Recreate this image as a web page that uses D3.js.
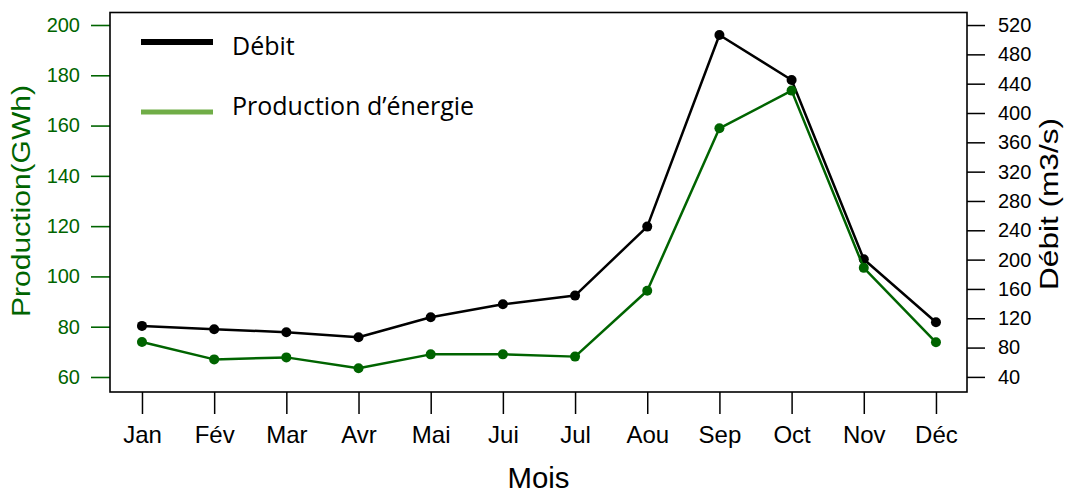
<!DOCTYPE html>
<html>
<head>
<meta charset="utf-8">
<script src="https://cdn.jsdelivr.net/npm/d3@7"></script>
<style>
  body { margin: 0; background: #fff; }
  svg { display: block; }
</style>
</head>
<body>
<div id="chart"></div>
<script>
////////////////////////////////  data  ////////////////////////////////
var months = ["Jan", "Fév", "Mar", "Avr", "Mai", "Jui", "Jul", "Aou", "Sep", "Oct", "Nov", "Déc"];
var production = [73.9, 67.0, 67.8, 63.5, 69.0, 69.0, 68.1, 94.3, 158.9, 173.9, 103.4, 73.8];   // GWh
var debit = [109.6, 105.1, 101.0, 94.1, 121.4, 139.1, 150.9, 245.0, 506.4, 445.0, 200.5, 114.6]; // m3/s
var prodTicks = [60, 80, 100, 120, 140, 160, 180, 200];
var debitTicks = [40, 80, 120, 160, 200, 240, 280, 320, 360, 400, 440, 480, 520];
var legendItems = ["Débit", "Production d’énergie"];

////////////////////////////////  setup  ////////////////////////////////
var W = 1065, H = 495;
var margin = {top: 12.5, right: 98, bottom: 103, left: 110};
var innerW = W - margin.left - margin.right;
var innerH = H - margin.top - margin.bottom;

var green = "#006400";
var legendGreen = "#70ad47";
var axisFont = "'Liberation Sans', Arial, sans-serif";

var svg = d3.select("#chart")
  .append("svg")
  .attr("width", W)
  .attr("height", H);

var g = svg.append("g")
  .attr("transform", "translate(" + margin.left + "," + margin.top + ")");

// x: month index, with a bit of room on each side like base R plots
var x = d3.scaleLinear()
  .domain([0.557, 12.43])
  .range([0, innerW]);

var yProd = d3.scaleLinear()
  .domain([54.03, 204.97])
  .range([innerH, 0]);

var yDeb = d3.scaleLinear()
  .domain([19.4, 537.1])
  .range([innerH, 0]);

////////////////////////////////  axes  ////////////////////////////////
var xAxis = g.append("g")
  .attr("transform", "translate(0," + innerH + ")")
  .call(d3.axisBottom(x)
    .tickValues(d3.range(1, 13))
    .tickFormat(function(d) { return months[d - 1]; })
    .tickSize(22)
    .tickSizeOuter(0)
    .tickPadding(12));
xAxis.select(".domain").remove();
xAxis.selectAll("line").attr("stroke", "#000").attr("stroke-width", 1.5);
xAxis.selectAll("text")
  .attr("fill", "#000")
  .style("font-family", axisFont)
  .style("font-size", "24px");

var leftAxis = g.append("g")
  .call(d3.axisLeft(yProd)
    .tickValues(prodTicks)
    .tickSize(19)
    .tickSizeOuter(0)
    .tickPadding(11));
leftAxis.select(".domain").remove();
leftAxis.selectAll("line").attr("stroke", green).attr("stroke-width", 1.6);
leftAxis.selectAll("text")
  .attr("fill", green)
  .style("font-family", axisFont)
  .style("font-size", "20px");

var rightAxis = g.append("g")
  .attr("transform", "translate(" + innerW + ",0)")
  .call(d3.axisRight(yDeb)
    .tickValues(debitTicks)
    .tickSize(18)
    .tickSizeOuter(0)
    .tickPadding(13));
rightAxis.select(".domain").remove();
rightAxis.selectAll("line").attr("stroke", "#000").attr("stroke-width", 1.5);
rightAxis.selectAll("text")
  .attr("fill", "#000")
  .style("font-family", axisFont)
  .style("font-size", "20px");

// frame
g.append("rect")
  .attr("width", innerW)
  .attr("height", innerH)
  .attr("fill", "none")
  .attr("stroke", "#000")
  .attr("stroke-width", 1.6);

//////////////////////////////  axis titles  //////////////////////////////
svg.append("text")
  .attr("x", margin.left + innerW / 2)
  .attr("y", 488)
  .attr("text-anchor", "middle")
  .attr("textLength", 62)
  .attr("lengthAdjust", "spacingAndGlyphs")
  .style("font-family", axisFont)
  .style("font-size", "29px")
  .text("Mois");

svg.append("text")
  .attr("transform", "translate(30,201) rotate(-90)")
  .attr("text-anchor", "middle")
  .attr("textLength", 232)
  .attr("lengthAdjust", "spacingAndGlyphs")
  .attr("fill", green)
  .style("font-family", axisFont)
  .style("font-size", "26px")
  .text("Production(GWh)");

svg.append("text")
  .attr("transform", "translate(1058,204) rotate(-90)")
  .attr("text-anchor", "middle")
  .attr("textLength", 172)
  .attr("lengthAdjust", "spacingAndGlyphs")
  .attr("fill", "#000")
  .style("font-family", axisFont)
  .style("font-size", "25px")
  .text("Débit (m3/s)");

//////////////////////////////  series  //////////////////////////////
function drawSeries(values, yScale, color) {
  var line = d3.line()
    .x(function(d, i) { return x(i + 1); })
    .y(function(d) { return yScale(d); });

  g.append("path")
    .datum(values)
    .attr("fill", "none")
    .attr("stroke", color)
    .attr("stroke-width", 2.5)
    .attr("stroke-linejoin", "round")
    .attr("d", line);

  g.selectAll(null)
    .data(values)
    .enter()
    .append("circle")
    .attr("cx", function(d, i) { return x(i + 1); })
    .attr("cy", function(d) { return yScale(d); })
    .attr("r", 5)
    .attr("fill", color);
}

drawSeries(debit, yDeb, "#000");
drawSeries(production, yProd, green);

//////////////////////////////  legend  //////////////////////////////
var legend = svg.selectAll(".legend")
  .data(legendItems)
  .enter()
  .append("g")
  .attr("class", "legend")
  .attr("transform", function(d, i) { return "translate(141," + (42 + i * 70) + ")"; });

legend.append("line")
  .attr("x1", 0)
  .attr("x2", 72)
  .attr("stroke", function(d, i) { return i === 0 ? "#000" : legendGreen; })
  .attr("stroke-width", function(d, i) { return i === 0 ? 6 : 5; });

legend.append("text")
  .attr("x", 91)
  .attr("y", function(d, i) { return i === 0 ? 13 : 3; })
  .style("font-family", "'Open Sans', 'Noto Sans', sans-serif")
  .style("font-size", "25px")
  .attr("fill", "#000")
  .text(function(d) { return d; });
</script>
</body>
</html>
